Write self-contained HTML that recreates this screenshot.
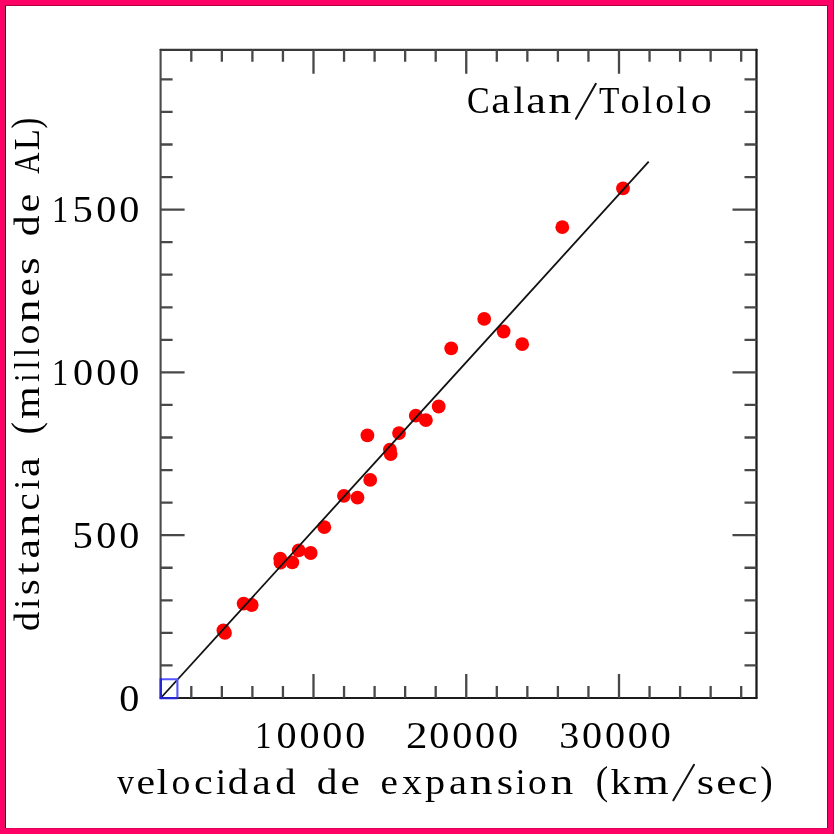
<!DOCTYPE html>
<html><head><meta charset="utf-8"><style>
html,body{margin:0;padding:0;width:834px;height:834px;overflow:hidden;background:#ff0066}
#w{position:absolute;left:0;top:0;width:834px;height:834px;background:#ff0066}
#in{position:absolute;left:6px;top:6px;width:821px;height:822px;background:#fff}
.b{position:absolute}
</style></head><body><div id="w"><div id="in"></div><div class="b" style="left:4px;top:5px;width:1px;height:823px;background:#d81a60"></div><div class="b" style="left:5px;top:5px;width:1px;height:823px;background:#4a0616"></div><div class="b" style="left:5px;top:5px;width:822px;height:1px;background:#b0003e"></div><div class="b" style="left:827px;top:5px;width:1px;height:823px;background:#96003a"></div><div class="b" style="left:833px;top:0;width:1px;height:834px;background:#b80046"></div><div class="b" style="left:5px;top:828px;width:822px;height:1px;background:#e0005a"></div><svg width="834" height="834" viewBox="0 0 834 834" style="position:absolute;left:0;top:0;will-change:transform"><g stroke-linecap="round"><path d="M160.6 49.8V698.05" stroke="#4a4a4a" stroke-width="2.1"/><path d="M160.6 49.8H756.5" stroke="#383838" stroke-width="2.3"/><path d="M160.6 698.05H756.5" stroke="#1c1c1c" stroke-width="2.1"/><path d="M756.5 49.8V698.05" stroke="#1c1c1c" stroke-width="2.3"/></g><path d="M191.30 698.05V686.05M191.30 49.8V61.8M221.85 698.05V686.05M221.85 49.8V61.8M252.40 698.05V686.05M252.40 49.8V61.8M282.95 698.05V686.05M282.95 49.8V61.8M313.50 698.05V674.05M313.50 49.8V73.8M344.05 698.05V686.05M344.05 49.8V61.8M374.60 698.05V686.05M374.60 49.8V61.8M405.15 698.05V686.05M405.15 49.8V61.8M435.70 698.05V686.05M435.70 49.8V61.8M466.25 698.05V674.05M466.25 49.8V73.8M496.80 698.05V686.05M496.80 49.8V61.8M527.35 698.05V686.05M527.35 49.8V61.8M557.90 698.05V686.05M557.90 49.8V61.8M588.45 698.05V686.05M588.45 49.8V61.8M619.00 698.05V674.05M619.00 49.8V73.8M649.55 698.05V686.05M649.55 49.8V61.8M680.10 698.05V686.05M680.10 49.8V61.8M710.65 698.05V686.05M710.65 49.8V61.8M741.20 698.05V686.05M741.20 49.8V61.8M160.6 665.44H172.6M756.5 665.44H744.5M160.6 632.88H172.6M756.5 632.88H744.5M160.6 600.32H172.6M756.5 600.32H744.5M160.6 567.76H172.6M756.5 567.76H744.5M160.6 535.20H184.6M756.5 535.20H732.5M160.6 502.64H172.6M756.5 502.64H744.5M160.6 470.08H172.6M756.5 470.08H744.5M160.6 437.52H172.6M756.5 437.52H744.5M160.6 404.96H172.6M756.5 404.96H744.5M160.6 372.40H184.6M756.5 372.40H732.5M160.6 339.84H172.6M756.5 339.84H744.5M160.6 307.28H172.6M756.5 307.28H744.5M160.6 274.72H172.6M756.5 274.72H744.5M160.6 242.16H172.6M756.5 242.16H744.5M160.6 209.60H184.6M756.5 209.60H732.5M160.6 177.04H172.6M756.5 177.04H744.5M160.6 144.48H172.6M756.5 144.48H744.5M160.6 111.92H172.6M756.5 111.92H744.5M160.6 79.36H172.6M756.5 79.36H744.5" stroke="#484848" stroke-width="2.3" fill="none"/><g fill="#ff0000"><circle cx="223.4" cy="630.5" r="6.9"/><circle cx="225" cy="632.9" r="6.9"/><circle cx="243.6" cy="603.6" r="6.9"/><circle cx="251.7" cy="605" r="6.9"/><circle cx="280.2" cy="558.6" r="6.9"/><circle cx="280.5" cy="562.7" r="6.9"/><circle cx="292.3" cy="562.4" r="6.9"/><circle cx="298.7" cy="550.4" r="6.9"/><circle cx="310.7" cy="553" r="6.9"/><circle cx="324.3" cy="527.2" r="6.9"/><circle cx="343.9" cy="495.8" r="6.9"/><circle cx="357.5" cy="497.7" r="6.9"/><circle cx="367.4" cy="435.4" r="6.9"/><circle cx="370.2" cy="479.9" r="6.9"/><circle cx="389.9" cy="449.6" r="6.9"/><circle cx="390.7" cy="454.1" r="6.9"/><circle cx="399" cy="433.1" r="6.9"/><circle cx="415.8" cy="415.7" r="6.9"/><circle cx="425.9" cy="420.2" r="6.9"/><circle cx="438.7" cy="406.5" r="6.9"/><circle cx="451.2" cy="348.3" r="6.9"/><circle cx="484.2" cy="318.9" r="6.9"/><circle cx="503.6" cy="331.5" r="6.9"/><circle cx="522.2" cy="344.2" r="6.9"/><circle cx="562.3" cy="227.2" r="6.9"/><circle cx="623" cy="188.4" r="6.9"/></g><path d="M160.75 698.0L648.7 161.7" stroke="#111" stroke-width="1.8" fill="none"/><path d="M160.8 679.3H177.4V698" fill="none" stroke="#5656ff" stroke-width="2.1"/><path d="M160.8 678.3V698.1H177.4" fill="none" stroke="#2424d0" stroke-width="2.3"/><g font-family="Liberation Serif" font-size="38" fill="#000"><g transform="translate(0 222.4)"><text transform="translate(60.60 0) scale(0.852 1.0)" x="-10.03">1</text><text transform="translate(83.00 0) scale(1.071 1.0)" x="-9.86">5</text><text transform="translate(106.20 0) scale(1.056 1.0)" x="-9.50">0</text><text transform="translate(129.40 0) scale(1.056 1.0)" x="-9.50">0</text></g><g transform="translate(0 385.2)"><text transform="translate(60.60 0) scale(0.852 1.0)" x="-10.03">1</text><text transform="translate(83.00 0) scale(1.056 1.0)" x="-9.50">0</text><text transform="translate(106.20 0) scale(1.056 1.0)" x="-9.50">0</text><text transform="translate(129.40 0) scale(1.056 1.0)" x="-9.50">0</text></g><g transform="translate(0 548.0)"><text transform="translate(83.00 0) scale(1.071 1.0)" x="-9.86">5</text><text transform="translate(106.20 0) scale(1.056 1.0)" x="-9.50">0</text><text transform="translate(129.40 0) scale(1.056 1.0)" x="-9.50">0</text></g><g transform="translate(0 710.8)"><text transform="translate(129.40 0) scale(1.056 1.0)" x="-9.50">0</text></g><g transform="translate(0 747.8)"><text transform="translate(263.80 0) scale(0.852 1.0)" x="-10.03">1</text><text transform="translate(286.65 0) scale(1.056 1.0)" x="-9.50">0</text><text transform="translate(309.50 0) scale(1.056 1.0)" x="-9.50">0</text><text transform="translate(332.35 0) scale(1.056 1.0)" x="-9.50">0</text><text transform="translate(355.20 0) scale(1.056 1.0)" x="-9.50">0</text></g><g transform="translate(0 747.8)"><text transform="translate(416.55 0) scale(1.129 1.0)" x="-9.29">2</text><text transform="translate(439.40 0) scale(1.056 1.0)" x="-9.50">0</text><text transform="translate(462.25 0) scale(1.056 1.0)" x="-9.50">0</text><text transform="translate(485.10 0) scale(1.056 1.0)" x="-9.50">0</text><text transform="translate(507.95 0) scale(1.056 1.0)" x="-9.50">0</text></g><g transform="translate(0 747.8)"><text transform="translate(569.30 0) scale(1.051 1.0)" x="-9.67">3</text><text transform="translate(592.15 0) scale(1.056 1.0)" x="-9.50">0</text><text transform="translate(615.00 0) scale(1.056 1.0)" x="-9.50">0</text><text transform="translate(637.85 0) scale(1.056 1.0)" x="-9.50">0</text><text transform="translate(660.70 0) scale(1.056 1.0)" x="-9.50">0</text></g><g transform="translate(0 793.8)" font-size="36.5"><text transform="translate(125.50 0) scale(0.915 1.0)" x="-9.12">v</text><text transform="translate(145.90 0) scale(1.147 1.0)" x="-8.18">e</text><text transform="translate(162.40 0) scale(1.164 1.0)" x="-5.07">l</text><text transform="translate(180.95 0) scale(1.034 1.0)" x="-9.12">o</text><text transform="translate(203.55 0) scale(1.154 1.0)" x="-8.23">c</text><text transform="translate(221.00 0) scale(0.979 1.0)" x="-5.11">i</text><text transform="translate(238.45 0) scale(1.116 1.0)" x="-9.56">d</text><text transform="translate(261.90 0) scale(1.144 1.0)" x="-8.49">a</text><text transform="translate(285.95 0) scale(1.116 1.0)" x="-9.56">d</text><text transform="translate(327.70 0) scale(1.134 1.0)" x="-9.56">d</text><text transform="translate(350.20 0) scale(1.192 1.0)" x="-8.18">e</text><text transform="translate(389.20 0) scale(1.073 1.0)" x="-8.18">e</text><text transform="translate(411.90 0) scale(1.092 1.0)" x="-9.06">x</text><text transform="translate(434.70 0) scale(1.102 1.0)" x="-8.71">p</text><text transform="translate(458.35 0) scale(1.110 1.0)" x="-8.49">a</text><text transform="translate(481.40 0) scale(1.250 1.0)" x="-9.27">n</text><text transform="translate(505.00 0) scale(1.150 1.0)" x="-7.19">s</text><text transform="translate(520.50 0) scale(0.956 1.0)" x="-5.11">i</text><text transform="translate(537.40 0) scale(1.028 1.0)" x="-9.12">o</text><text transform="translate(562.20 0) scale(1.250 1.0)" x="-9.27">n</text><text transform="translate(602.15 0) scale(1.024 1.12)" x="-6.29">(</text><text transform="translate(621.25 0) scale(1.128 1.0)" x="-9.47">k</text><text transform="translate(651.00 0) scale(1.250 1.0)" x="-14.29">m</text><text transform="translate(705.40 0) scale(1.221 1.0)" x="-7.19">s</text><text transform="translate(726.40 0) scale(1.250 1.0)" x="-8.18">e</text><text transform="translate(747.75 0) scale(1.213 1.0)" x="-8.23">c</text><text transform="translate(766.35 0) scale(1.024 1.12)" x="-5.86">)</text></g><g transform="translate(0 112.8)" font-size="37"><text transform="translate(478.15 0) scale(0.919 1.0)" x="-12.08">C</text><text transform="translate(501.05 0) scale(1.149 1.0)" x="-8.61">a</text><text transform="translate(518.80 0) scale(1.102 1.0)" x="-5.14">l</text><text transform="translate(536.50 0) scale(1.197 1.0)" x="-8.61">a</text><text transform="translate(559.95 0) scale(1.250 1.0)" x="-9.39">n</text><text transform="translate(609.25 0) scale(0.901 1.0)" x="-11.33">T</text><text transform="translate(630.10 0) scale(1.039 1.0)" x="-9.25">o</text><text transform="translate(647.05 0) scale(1.000 1.0)" x="-5.14">l</text><text transform="translate(664.70 0) scale(1.014 1.0)" x="-9.25">o</text><text transform="translate(681.60 0) scale(1.012 1.0)" x="-5.14">l</text><text transform="translate(701.30 0) scale(1.141 1.0)" x="-9.25">o</text></g><g transform="translate(38.9 640) rotate(-90)" font-size="36.5"><text transform="translate(18.80 0) scale(1.062 1.0)" x="-9.56">d</text><text transform="translate(36.30 0) scale(0.979 1.0)" x="-5.11">i</text><text transform="translate(52.85 0) scale(1.124 1.0)" x="-7.19">s</text><text transform="translate(71.35 0) scale(1.250 1.0)" x="-5.14">t</text><text transform="translate(91.75 0) scale(1.221 1.0)" x="-8.49">a</text><text transform="translate(115.20 0) scale(1.228 1.0)" x="-9.27">n</text><text transform="translate(138.10 0) scale(1.059 1.0)" x="-8.23">c</text><text transform="translate(155.25 0) scale(0.945 1.0)" x="-5.11">i</text><text transform="translate(173.40 0) scale(1.214 1.0)" x="-8.49">a</text><text transform="translate(212.10 0) scale(1.013 1.12)" x="-6.29">(</text><text transform="translate(237.50 0) scale(1.135 1.0)" x="-14.29">m</text><text transform="translate(262.35 0) scale(0.800 1.0)" x="-5.11">i</text><text transform="translate(274.95 0) scale(0.800 1.0)" x="-5.07">l</text><text transform="translate(287.55 0) scale(0.800 1.0)" x="-5.07">l</text><text transform="translate(305.50 0) scale(1.092 1.0)" x="-9.12">o</text><text transform="translate(329.35 0) scale(1.250 1.0)" x="-9.27">n</text><text transform="translate(352.95 0) scale(1.110 1.0)" x="-8.18">e</text><text transform="translate(374.05 0) scale(1.250 1.0)" x="-7.19">s</text><text transform="translate(414.65 0) scale(1.140 1.0)" x="-9.56">d</text><text transform="translate(437.00 0) scale(1.162 1.0)" x="-8.18">e</text><text transform="translate(476.70 0) scale(0.800 1.0)" x="-13.22">A</text><text transform="translate(499.75 0) scale(0.945 1.0)" x="-10.58">L</text><text transform="translate(516.80 0) scale(0.885 1.12)" x="-5.86">)</text></g></g><path d="M576 118.8L595.8 83.8M673.4 800.3L694 764.8" stroke="#111" stroke-width="2" fill="none" stroke-linecap="round"/></svg></div></body></html>
